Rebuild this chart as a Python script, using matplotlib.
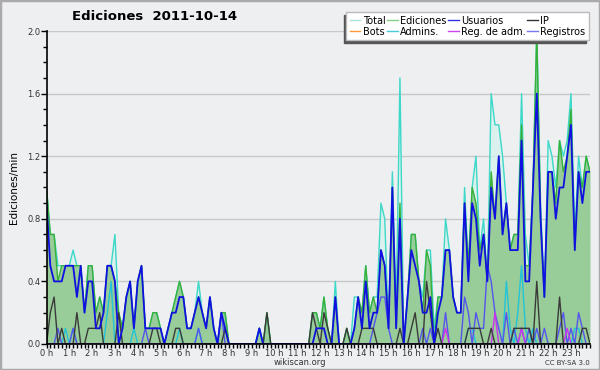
import matplotlib
matplotlib.use("Agg")
import matplotlib.pyplot as plt
import numpy as np
from matplotlib.patches import Rectangle

# editions per minute, 10-minute bins, one row per hour
total = [
    1.0, 0.7, 0.7, 0.5, 0.5, 0.5,
    0.5, 0.6, 0.5, 0.5, 0.2, 0.5,
    0.5, 0.2, 0.3, 0.2, 0.5, 0.5,
    0.7, 0.2, 0.1, 0.3, 0.4, 0.1,
    0.4, 0.5, 0.1, 0.1, 0.2, 0.2,
    0.1, 0.0, 0.1, 0.2, 0.3, 0.4,
    0.3, 0.1, 0.1, 0.2, 0.4, 0.2,
    0.1, 0.3, 0.1, 0.0, 0.2, 0.2,
    0.0, 0.0, 0.0, 0.0, 0.0, 0.0,
    0.0, 0.0, 0.1, 0.0, 0.2, 0.0,
    0.0, 0.0, 0.0, 0.0, 0.0, 0.0,
    0.0, 0.0, 0.0, 0.0, 0.2, 0.2,
    0.1, 0.3, 0.1, 0.0, 0.4, 0.0,
    0.0, 0.1, 0.0, 0.3, 0.3, 0.2,
    0.5, 0.2, 0.3, 0.3, 0.9, 0.8,
    0.1, 1.1, 0.2, 1.7, 0.0, 0.3,
    0.7, 0.7, 0.4, 0.3, 0.6, 0.6,
    0.1, 0.3, 0.3, 0.8, 0.6, 0.3,
    0.2, 0.2, 1.0, 0.5, 1.0, 1.2,
    0.6, 0.8, 0.4, 1.6, 1.4, 1.4,
    1.2, 0.9, 0.6, 0.7, 0.7, 1.6,
    0.7, 0.5, 1.0, 2.0, 0.9, 0.3,
    1.3, 1.2, 1.0, 1.3, 1.2, 1.3,
    1.6, 0.7, 1.2, 1.0, 1.2, 1.1,
]
ediciones = [
    1.0, 0.7, 0.7, 0.4, 0.5, 0.5,
    0.5, 0.5, 0.5, 0.5, 0.2, 0.5,
    0.5, 0.2, 0.3, 0.2, 0.5, 0.5,
    0.4, 0.2, 0.1, 0.3, 0.4, 0.1,
    0.4, 0.5, 0.1, 0.1, 0.2, 0.2,
    0.1, 0.0, 0.1, 0.2, 0.3, 0.4,
    0.3, 0.1, 0.1, 0.2, 0.3, 0.2,
    0.1, 0.3, 0.1, 0.0, 0.2, 0.2,
    0.0, 0.0, 0.0, 0.0, 0.0, 0.0,
    0.0, 0.0, 0.1, 0.0, 0.2, 0.0,
    0.0, 0.0, 0.0, 0.0, 0.0, 0.0,
    0.0, 0.0, 0.0, 0.0, 0.2, 0.2,
    0.1, 0.3, 0.1, 0.0, 0.3, 0.0,
    0.0, 0.1, 0.0, 0.1, 0.3, 0.2,
    0.5, 0.2, 0.3, 0.2, 0.6, 0.5,
    0.1, 1.0, 0.1, 0.9, 0.0, 0.3,
    0.7, 0.7, 0.4, 0.2, 0.6, 0.5,
    0.0, 0.3, 0.3, 0.6, 0.6, 0.3,
    0.2, 0.2, 0.9, 0.5, 1.0, 0.9,
    0.6, 0.7, 0.4, 1.1, 0.8, 1.2,
    0.7, 0.9, 0.6, 0.7, 0.7, 1.4,
    0.5, 0.5, 1.0, 2.0, 0.8, 0.3,
    1.1, 1.1, 0.9, 1.3, 1.1, 1.2,
    1.5, 0.6, 1.1, 1.0, 1.2, 1.1,
]
usuarios = [
    0.9, 0.5, 0.4, 0.4, 0.4, 0.5,
    0.5, 0.5, 0.3, 0.5, 0.2, 0.4,
    0.4, 0.1, 0.1, 0.2, 0.5, 0.5,
    0.4, 0.0, 0.1, 0.3, 0.4, 0.1,
    0.4, 0.5, 0.1, 0.1, 0.1, 0.1,
    0.1, 0.0, 0.1, 0.2, 0.2, 0.3,
    0.3, 0.1, 0.1, 0.2, 0.3, 0.2,
    0.1, 0.3, 0.1, 0.0, 0.2, 0.1,
    0.0, 0.0, 0.0, 0.0, 0.0, 0.0,
    0.0, 0.0, 0.1, 0.0, 0.0, 0.0,
    0.0, 0.0, 0.0, 0.0, 0.0, 0.0,
    0.0, 0.0, 0.0, 0.0, 0.0, 0.1,
    0.1, 0.1, 0.0, 0.0, 0.3, 0.0,
    0.0, 0.0, 0.0, 0.1, 0.3, 0.1,
    0.4, 0.1, 0.2, 0.2, 0.6, 0.5,
    0.1, 1.0, 0.1, 0.8, 0.0, 0.3,
    0.6, 0.5, 0.4, 0.2, 0.2, 0.3,
    0.0, 0.2, 0.3, 0.6, 0.6, 0.3,
    0.2, 0.2, 0.9, 0.4, 0.9, 0.8,
    0.5, 0.7, 0.4, 1.0, 0.8, 1.2,
    0.7, 0.9, 0.6, 0.6, 0.6, 1.3,
    0.4, 0.4, 1.0, 1.6, 0.8, 0.3,
    1.1, 1.1, 0.8, 1.0, 1.0, 1.2,
    1.4, 0.6, 1.1, 0.9, 1.1, 1.1,
]
ip = [
    0.0, 0.2, 0.3, 0.0, 0.1, 0.0,
    0.0, 0.0, 0.2, 0.0, 0.0, 0.1,
    0.1, 0.1, 0.2, 0.0, 0.0, 0.0,
    0.0, 0.2, 0.0, 0.0, 0.0, 0.0,
    0.0, 0.0, 0.0, 0.0, 0.1, 0.1,
    0.0, 0.0, 0.0, 0.0, 0.1, 0.1,
    0.0, 0.0, 0.0, 0.0, 0.0, 0.0,
    0.0, 0.0, 0.0, 0.0, 0.0, 0.1,
    0.0, 0.0, 0.0, 0.0, 0.0, 0.0,
    0.0, 0.0, 0.0, 0.0, 0.2, 0.0,
    0.0, 0.0, 0.0, 0.0, 0.0, 0.0,
    0.0, 0.0, 0.0, 0.0, 0.2, 0.1,
    0.0, 0.2, 0.1, 0.0, 0.0, 0.0,
    0.0, 0.1, 0.0, 0.0, 0.0, 0.1,
    0.1, 0.1, 0.1, 0.0, 0.0, 0.0,
    0.0, 0.0, 0.0, 0.1, 0.0, 0.0,
    0.1, 0.2, 0.0, 0.0, 0.4, 0.2,
    0.0, 0.1, 0.0, 0.0, 0.0, 0.0,
    0.0, 0.0, 0.0, 0.1, 0.1, 0.1,
    0.1, 0.0, 0.0, 0.1, 0.0, 0.0,
    0.0, 0.0, 0.0, 0.1, 0.1, 0.1,
    0.1, 0.1, 0.0, 0.4, 0.0, 0.0,
    0.0, 0.0, 0.0, 0.3, 0.0, 0.0,
    0.0, 0.0, 0.0, 0.1, 0.1, 0.0,
]
admins = [
    0.0, 0.0, 0.0, 0.0, 0.0, 0.1,
    0.0, 0.1, 0.0, 0.0, 0.0, 0.0,
    0.0, 0.0, 0.0, 0.0, 0.2, 0.4,
    0.0, 0.0, 0.0, 0.0, 0.0, 0.1,
    0.0, 0.0, 0.0, 0.0, 0.0, 0.0,
    0.0, 0.0, 0.0, 0.0, 0.0, 0.1,
    0.0, 0.0, 0.0, 0.0, 0.1, 0.0,
    0.0, 0.0, 0.0, 0.0, 0.0, 0.0,
    0.0, 0.0, 0.0, 0.0, 0.0, 0.0,
    0.0, 0.0, 0.1, 0.0, 0.0, 0.0,
    0.0, 0.0, 0.0, 0.0, 0.0, 0.0,
    0.0, 0.0, 0.0, 0.0, 0.0, 0.0,
    0.0, 0.0, 0.0, 0.0, 0.0, 0.0,
    0.0, 0.0, 0.0, 0.0, 0.0, 0.0,
    0.0, 0.0, 0.0, 0.0, 0.0, 0.0,
    0.0, 0.0, 0.0, 0.0, 0.0, 0.0,
    0.0, 0.0, 0.0, 0.0, 0.0, 0.0,
    0.0, 0.0, 0.0, 0.0, 0.0, 0.0,
    0.0, 0.0, 0.0, 0.1, 0.1, 0.0,
    0.0, 0.0, 0.0, 0.0, 0.0, 0.0,
    0.0, 0.4, 0.1, 0.0, 0.2, 0.5,
    0.1, 0.0, 0.1, 0.0, 0.0, 0.0,
    0.0, 0.0, 0.0, 0.0, 0.0, 0.0,
    0.0, 0.1, 0.1, 0.0, 0.0, 0.0,
]
registros = [
    0.0, 0.0, 0.0, 0.1, 0.0, 0.0,
    0.0, 0.1, 0.0, 0.0, 0.0, 0.0,
    0.0, 0.0, 0.0, 0.0, 0.0, 0.0,
    0.0, 0.0, 0.0, 0.0, 0.0, 0.0,
    0.0, 0.0, 0.1, 0.0, 0.0, 0.0,
    0.0, 0.0, 0.0, 0.0, 0.0, 0.0,
    0.0, 0.0, 0.0, 0.0, 0.1, 0.0,
    0.0, 0.0, 0.0, 0.0, 0.2, 0.0,
    0.0, 0.0, 0.0, 0.0, 0.0, 0.0,
    0.0, 0.0, 0.0, 0.0, 0.0, 0.0,
    0.0, 0.0, 0.0, 0.0, 0.0, 0.0,
    0.0, 0.0, 0.0, 0.0, 0.0, 0.0,
    0.0, 0.0, 0.0, 0.0, 0.0, 0.0,
    0.0, 0.0, 0.0, 0.0, 0.0, 0.0,
    0.0, 0.0, 0.1, 0.2, 0.3, 0.3,
    0.1, 0.0, 0.0, 0.0, 0.0, 0.0,
    0.0, 0.0, 0.0, 0.1, 0.0, 0.1,
    0.0, 0.0, 0.0, 0.2, 0.0, 0.0,
    0.0, 0.0, 0.3, 0.2, 0.0, 0.2,
    0.1, 0.1, 0.5, 0.4, 0.2, 0.1,
    0.0, 0.2, 0.0, 0.1, 0.0, 0.1,
    0.0, 0.1, 0.0, 0.1, 0.0, 0.1,
    0.0, 0.0, 0.0, 0.1, 0.2, 0.0,
    0.1, 0.0, 0.2, 0.1, 0.0, 0.0,
]
reg_adm = [0.0] * 144
for idx, val in [(105, 0.1), (118, 0.2), (125, 0.1), (137, 0.1)]:
    reg_adm[idx] = val
bots = [0.0] * 144

hour_labels = [f"{h} h" for h in range(24)]
y_ticks = [0.0, 0.4, 0.8, 1.2, 1.6, 2.0]

bg = "#eeeff1"
x = np.arange(144) / 6.0

fig = plt.figure(figsize=(6, 3.7), dpi=100, facecolor=bg)
ax = fig.add_axes([0.0775, 0.0703, 0.9058, 0.8459])
ax.set_facecolor(bg)

ax.fill_between(x, total, color="#d6f2ee", alpha=0.8, lw=0)
ax.fill_between(x, ediciones, color="#98cc98", lw=0)
ax.plot(x, total, color="#3cd8c8", lw=1.0, label="Total")
ax.plot(x, ediciones, color="#38b038", lw=1.0, label="Ediciones")
ax.plot(x, bots, color="#ff9933", lw=1.0, label="Bots", alpha=0)
ax.plot(x, admins, color="#22c4d8", lw=1.0, label="Admins.")
ax.plot(x, registros, color="#5555ee", lw=1.0, label="Registros")
ax.plot(x, reg_adm, color="#cc33ee", lw=1.0, label="Reg. de adm.")
ax.plot(x, ip, color="#3a3a3a", lw=1.0, label="IP")
ax.plot(x, usuarios, color="#1010e0", lw=1.3, label="Usuarios")

ax.set_xlim(0, 143 / 6.0)
ax.set_ylim(0, 2.0)
ax.set_yticks(y_ticks)
ax.set_yticklabels([f"{v:.1f}" for v in y_ticks])
ax.set_yticks(np.arange(0, 2.01, 0.1), minor=True)
ax.set_xticks(range(24))
ax.set_xticklabels(hour_labels)
ax.set_xticks(np.arange(144) / 6.0, minor=True)
ax.grid(axis="y", color="#c8c8c8", lw=1)
ax.set_axisbelow(True)
ax.tick_params(axis="both", which="both", direction="out", colors="black",
               labelcolor="#333333", labelsize=6, length=3, width=1, pad=0.5)
ax.tick_params(axis="y", which="major", length=4)
for s in ["top", "right"]:
    ax.spines[s].set_visible(False)
for s in ["left", "bottom"]:
    ax.spines[s].set_color("black")
    ax.spines[s].set_linewidth(1.2)
ax.set_ylabel("Ediciones/min", fontsize=7.5, labelpad=6)

order = ["Total", "Bots", "Ediciones", "Admins.", "Usuarios", "Reg. de adm.", "IP", "Registros"]
legend_colors = {"Total": "#a8e4dc", "Bots": "#ff9933", "Ediciones": "#88d088",
                 "Admins.": "#44ccdd", "Usuarios": "#3333dd", "Reg. de adm.": "#cc44ee",
                 "IP": "#333333", "Registros": "#7777ee"}
proxies = [plt.Line2D([], [], color=legend_colors[k], lw=1.0) for k in order]
leg = ax.legend(proxies, order, ncol=4, loc="upper right", bbox_to_anchor=(1.007, 1.075),
                fontsize=7, frameon=True, fancybox=False, framealpha=1,
                edgecolor="#bbbbbb", handlelength=1.1, handletextpad=0.25,
                columnspacing=0.15, labelspacing=0.1, borderpad=0.35,
                shadow={"ox": -2, "oy": -2, "color": "#555555", "alpha": 1})

fig.text(0.257, 0.955, "Ediciones  2011-10-14", fontsize=9.5, fontweight="bold",
         ha="center", va="center")
fig.text(0.5, 0.02, "wikiscan.org", fontsize=6, color="#333333", ha="center", va="center")
fig.text(0.983, 0.02, "CC BY-SA 3.0", fontsize=5, color="#333333", ha="right", va="center")
fig.patches.append(Rectangle((0, 0), 1, 1, transform=fig.transFigure, fill=False,
                             edgecolor="#aaaaaa", lw=2.5))

fig.savefig("out.png", dpi=100, facecolor=bg)
